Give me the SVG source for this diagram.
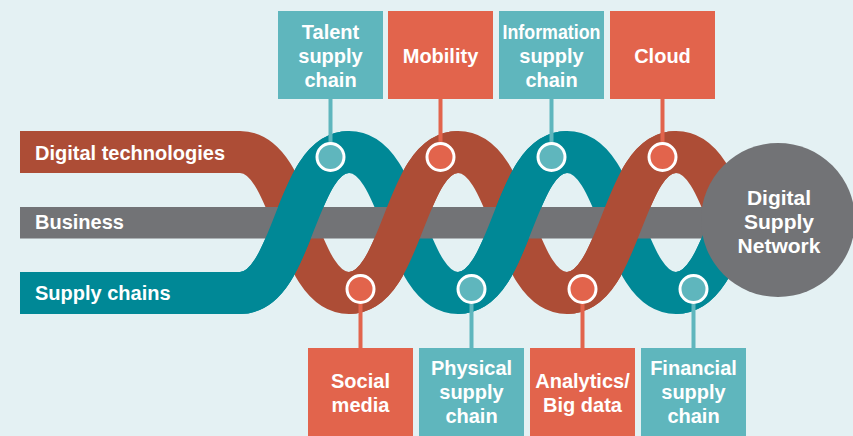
<svg xmlns="http://www.w3.org/2000/svg" width="853" height="436" viewBox="0 0 853 436">
<style>
.t{font-family:"Liberation Sans",Arial,sans-serif;font-weight:bold;font-size:20px;fill:#ffffff}
.c{text-anchor:middle}
.n{font-size:21px}
.red{fill:none;stroke:#ad4d36;stroke-width:42}
.teal{fill:none;stroke:#008896;stroke-width:42}
.bc{fill:#e2644c}
.bt{fill:#5fb6bd}
.lc{stroke:#e2644c;stroke-width:4}
.lt{stroke:#5fb6bd;stroke-width:4}
.mc{fill:#e2644c;stroke:#ffffff;stroke-width:3}
.mt{fill:#5fb6bd;stroke:#ffffff;stroke-width:3}
</style>
<rect x="0" y="0" width="853" height="436" fill="#e4f1f3"/>
<g id="band-digital-technologies">
<path class="red" d="M20 152 H240 C294.5 152 294.5 293 349 293 C403.5 293 403.5 152 458 152 C512.5 152 512.5 293 567 293 C621.5 293 621.5 152 676 152 C703.25 152 716.875 187.25 730.5 222.5"/>
<text class="t" x="35" y="160">Digital technologies</text>
</g>
<g id="band-supply-chains">
<path class="teal" d="M20 293 H240 C294.5 293 294.5 152 349 152 C403.5 152 403.5 293 458 293 C512.5 293 512.5 152 567 152 C621.5 152 621.5 293 676 293 C703.25 293 716.875 257.75 730.5 222.5"/>
<text class="t" x="35" y="300">Supply chains</text>
</g>
<g id="band-business">
<rect x="20" y="207" width="760" height="31.5" fill="#727376"/>
<text class="t" x="35" y="229">Business</text>
</g>
<g id="braid-front">
<path class="teal" d="M240 293 C294.5 293 294.5 152 349 152 M458 293 C512.5 293 512.5 152 567 152 M676 293 C703.25 293 716.875 257.75 730.5 222.5"/>
<path class="red" d="M349 293 C403.5 293 403.5 152 458 152 M567 293 C621.5 293 621.5 152 676 152"/>
</g>
<g id="digital-supply-network">
<circle cx="778" cy="220" r="77" fill="#727376"/>
<text class="t c n" x="779" y="205">Digital</text>
<text class="t c n" x="779" y="229">Supply</text>
<text class="t c n" x="779" y="253">Network</text>
</g>
<g id="connectors">
<line class="lt" x1="330.5" y1="98" x2="330.5" y2="150"/>
<line class="lc" x1="440.5" y1="98" x2="440.5" y2="150"/>
<line class="lt" x1="551.5" y1="98" x2="551.5" y2="150"/>
<line class="lc" x1="662.5" y1="98" x2="662.5" y2="150"/>
<line class="lc" x1="360.5" y1="296" x2="360.5" y2="349"/>
<line class="lt" x1="471.5" y1="296" x2="471.5" y2="349"/>
<line class="lc" x1="582.5" y1="296" x2="582.5" y2="349"/>
<line class="lt" x1="693.5" y1="296" x2="693.5" y2="349"/>
</g>
<g id="talent-supply-chain">
<rect class="bt" x="278" y="11" width="105" height="88"/>
<text class="t c" x="330.5" y="39">Talent</text>
<text class="t c" x="330.5" y="63">supply</text>
<text class="t c" x="330.5" y="87">chain</text>
<circle class="mt" cx="330.5" cy="157" r="13.5"/>
</g>
<g id="mobility">
<rect class="bc" x="388" y="11" width="105" height="88"/>
<text class="t c" x="440.5" y="63">Mobility</text>
<circle class="mc" cx="440.5" cy="157" r="13.5"/>
</g>
<g id="information-supply-chain">
<rect class="bt" x="499" y="11" width="105" height="88"/>
<text class="t c" x="551.5" y="39" textLength="98" lengthAdjust="spacingAndGlyphs">Information</text>
<text class="t c" x="551.5" y="63">supply</text>
<text class="t c" x="551.5" y="87">chain</text>
<circle class="mt" cx="551.5" cy="157" r="13.5"/>
</g>
<g id="cloud">
<rect class="bc" x="610" y="11" width="105" height="88"/>
<text class="t c" x="662.5" y="63">Cloud</text>
<circle class="mc" cx="662.5" cy="157" r="13.5"/>
</g>
<g id="social-media">
<rect class="bc" x="308" y="348" width="105" height="88"/>
<text class="t c" x="360.5" y="388">Social</text>
<text class="t c" x="360.5" y="412">media</text>
<circle class="mc" cx="360.5" cy="289" r="13.5"/>
</g>
<g id="physical-supply-chain">
<rect class="bt" x="419" y="348" width="105" height="88"/>
<text class="t c" x="471.5" y="375">Physical</text>
<text class="t c" x="471.5" y="399">supply</text>
<text class="t c" x="471.5" y="423">chain</text>
<circle class="mt" cx="471.5" cy="289" r="13.5"/>
</g>
<g id="analytics-big-data">
<rect class="bc" x="530" y="348" width="105" height="88"/>
<text class="t c" x="582.5" y="388">Analytics/</text>
<text class="t c" x="582.5" y="412">Big data</text>
<circle class="mc" cx="582.5" cy="289" r="13.5"/>
</g>
<g id="financial-supply-chain">
<rect class="bt" x="641" y="348" width="105" height="88"/>
<text class="t c" x="693.5" y="375">Financial</text>
<text class="t c" x="693.5" y="399">supply</text>
<text class="t c" x="693.5" y="423">chain</text>
<circle class="mt" cx="693.5" cy="289" r="13.5"/>
</g>
</svg>
